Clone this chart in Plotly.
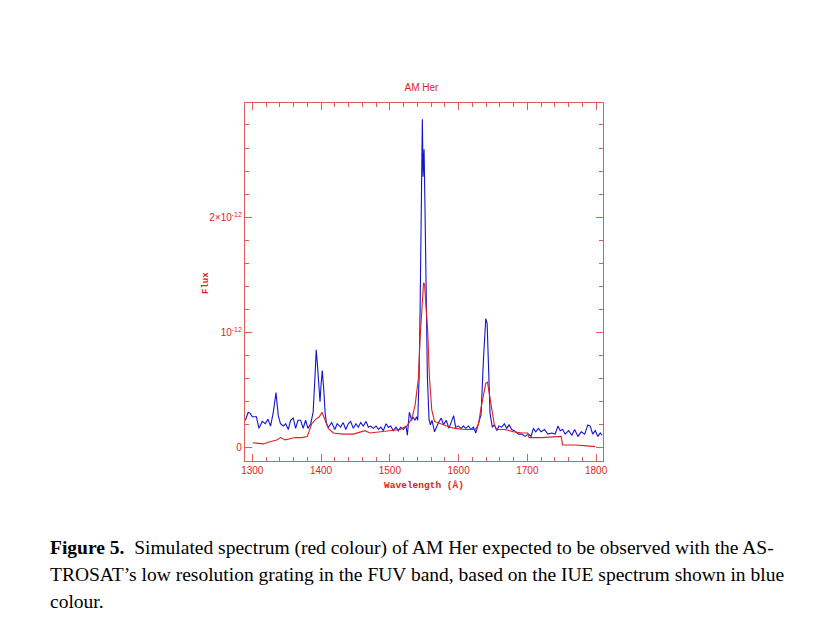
"""AM Her FUV spectrum: IUE (blue) vs simulated ASTROSAT grating (red)."""

import plotly.graph_objects as go

# IUE spectrum (blue), flux in units of 1e-12
iue_wave = [
    1290, 1294, 1297, 1300, 1302.5, 1306, 1309.7, 1314.5, 1319, 1322.8,
    1326.6, 1330.6, 1334.5, 1337.8, 1341, 1345, 1348.5, 1352.4, 1355.7,
    1359.6, 1363, 1366.4, 1370.3, 1374, 1377.5, 1381, 1385, 1388.5, 1391,
    1393, 1395, 1397, 1398.5, 1400, 1401.8, 1404, 1406, 1408, 1410.6,
    1415.4, 1420, 1423.5, 1428.4, 1432.2, 1436, 1439.5, 1443, 1447, 1450.8,
    1454.2, 1457.6, 1461.5, 1465.4, 1468.8, 1472.2, 1476, 1480, 1483.4,
    1486.8, 1490.6, 1494.5, 1498, 1501.3, 1505, 1509, 1512.4, 1515.8,
    1519.7, 1523.5, 1525.5, 1528.4, 1531.8, 1533.3, 1536.7, 1539, 1540.6,
    1542.5, 1544, 1545.4, 1547.3, 1548.3, 1549.8, 1551.2, 1552.7, 1554.6,
    1557, 1559, 1561.4, 1565, 1570, 1574.8, 1578, 1582, 1586, 1589.3,
    1592.8, 1595.7, 1599.8, 1603.6, 1607, 1610.5, 1614.3, 1618, 1621.7,
    1625, 1628.8, 1632.7, 1636, 1639.5, 1641.5, 1643.3, 1645.7, 1649, 1652,
    1655.4, 1658.7, 1662.6, 1666.5, 1670, 1673.3, 1677.2, 1681, 1687,
    1691.8, 1696.7, 1701.5, 1705.4, 1708.8, 1712.2, 1716, 1720, 1725,
    1729.8, 1735.6, 1740.5, 1744.4, 1747.8, 1751.2, 1755, 1760, 1764.8,
    1768.7, 1773.6, 1778.4, 1783.3, 1788, 1791.5, 1795, 1798.8, 1802.6,
    1806, 1808.5,
]
iue_flux = [
    0.24, 0.31, 0.30, 0.27, 0.27, 0.27, 0.17, 0.23, 0.21, 0.25,
    0.19, 0.31, 0.48, 0.28, 0.21, 0.19, 0.21, 0.16, 0.24,
    0.26, 0.17, 0.24, 0.24, 0.17, 0.24, 0.17, 0.21, 0.31, 0.60,
    0.85, 0.70, 0.50, 0.40, 0.55, 0.67, 0.50, 0.30, 0.21, 0.18,
    0.22, 0.16, 0.21, 0.18, 0.22, 0.16, 0.21, 0.23, 0.17, 0.21,
    0.18, 0.22, 0.19, 0.23, 0.18, 0.19, 0.17, 0.19, 0.16,
    0.18, 0.15, 0.21, 0.18, 0.19, 0.15, 0.18, 0.15, 0.18,
    0.16, 0.19, 0.11, 0.31, 0.24, 0.27, 0.24, 0.27, 0.24,
    0.60, 1.19, 2.06, 2.85, 2.35, 2.59, 2.06, 1.34, 0.62,
    0.25, 0.20, 0.24, 0.14, 0.21, 0.26, 0.20, 0.24, 0.17, 0.23,
    0.28, 0.18, 0.19, 0.17, 0.19, 0.17, 0.19, 0.16, 0.18,
    0.13, 0.20, 0.29, 0.75, 1.12, 1.08, 0.68, 0.30, 0.18, 0.20,
    0.15, 0.19, 0.18, 0.21, 0.17, 0.20, 0.16, 0.15, 0.12,
    0.12, 0.10, 0.12, 0.10, 0.17, 0.14, 0.17, 0.14, 0.16,
    0.12, 0.13, 0.12, 0.19, 0.15, 0.16, 0.12, 0.15, 0.11,
    0.16, 0.10, 0.14, 0.12, 0.20, 0.19, 0.12, 0.15, 0.10,
    0.13, 0.11,
]

# Simulated ASTROSAT spectrum (red), flux in units of 1e-12
sim_wave = [
    1300.6, 1308, 1316, 1325.7, 1335.4, 1341.3, 1347.6, 1354.9, 1362,
    1371.8, 1380, 1383, 1386.4, 1392.6, 1397.5, 1401.4, 1405.7, 1410.6,
    1417.8, 1432.3, 1447, 1459, 1464, 1471, 1485.8, 1500, 1515, 1524.5,
    1531.8, 1536.7, 1541.5, 1544, 1546.5, 1549, 1550.5, 1553, 1555.2,
    1557.5, 1561, 1565, 1573, 1587.6, 1595, 1609.5, 1624, 1628.8, 1632.7,
    1636, 1639.5, 1642, 1645, 1648.3, 1652, 1655.4, 1667.5, 1679.6,
    1691.8, 1700.5, 1702.5, 1721, 1740.5, 1749.2, 1751.2, 1769.6, 1786.5,
    1798.8,
]
sim_flux = [
    0.045, 0.04, 0.035, 0.054, 0.069, 0.09, 0.07, 0.08, 0.09,
    0.09, 0.10, 0.15, 0.21, 0.25, 0.27, 0.31, 0.24, 0.17,
    0.13, 0.12, 0.12, 0.14, 0.15, 0.13, 0.14, 0.15, 0.16, 0.19,
    0.25, 0.37, 0.60, 0.95, 1.25, 1.43, 1.42, 1.20, 1.00,
    0.62, 0.33, 0.23, 0.21, 0.18, 0.17, 0.16, 0.16, 0.20, 0.35,
    0.46, 0.56, 0.57, 0.46, 0.32, 0.20, 0.16, 0.16, 0.14,
    0.13, 0.13, 0.09, 0.09, 0.10, 0.10, 0.026, 0.026, 0.018,
    0.012,
]

y_tick_vals = [0, 1, 2]
y_tick_text = ["0", "10<sup>-12</sup>", "2×10<sup>-12</sup>"]

caption_lines = [
    "<b>Figure 5.</b>  Simulated spectrum (red colour) of AM Her expected to be observed with the AS-",
    "TROSAT’s low resolution grating in the FUV band, based on the IUE spectrum shown in blue",
    "colour.",
]

FRAME = "#e05a5a"
TEXT = "#dd1c1c"

# the page body adds an 8px offset, so margins are shifted to compensate
PLOT_L, PLOT_R, PLOT_T, PLOT_B = 245, 603, 103, 461
OFF = 8
PW = PLOT_R - PLOT_L
PH = PLOT_B - PLOT_T

fig = go.Figure()
fig.add_trace(go.Scatter(x=iue_wave, y=iue_flux, mode="lines",
                         line=dict(color="#1414cc", width=1.1)))
fig.add_trace(go.Scatter(x=sim_wave, y=sim_flux, mode="lines",
                         line=dict(color="#dd2020", width=1.1)))

axis_common = dict(
    showgrid=False, zeroline=False, showline=True, linecolor=FRAME,
    linewidth=1.2, mirror="allticks", ticks="inside", tickcolor=FRAME,
    tickwidth=1, ticklen=7,
    tickfont=dict(family="Liberation Sans, Arial", size=10, color=TEXT),
)

fig.update_xaxes(
    range=[1289.4, 1810], tick0=1300, dtick=100,
    minor=dict(dtick=20, ticks="inside", ticklen=4, tickcolor=FRAME),
    title=dict(text="<b>Wavelength (Å)</b>", standoff=6,
               font=dict(family="Liberation Mono, Courier New", size=9.5,
                         color=TEXT)),
    **axis_common,
)
fig.update_yaxes(
    range=[-0.113, 2.99], tickvals=y_tick_vals, ticktext=y_tick_text,
    minor=dict(dtick=0.2, tick0=0, ticks="inside", ticklen=4,
               tickcolor=FRAME),
    **axis_common,
)

fig.update_layout(
    width=827, height=640,
    margin=dict(l=PLOT_L - OFF, r=827 - PLOT_R + OFF, t=PLOT_T - OFF,
                b=640 - PLOT_B + OFF, pad=0),
    paper_bgcolor="white", plot_bgcolor="white",
    showlegend=False,
    title=dict(text="AM Her", x=0.5, xanchor="center",
               y=1 - (87 - OFF) / 640, yanchor="middle",
               font=dict(family="Liberation Sans, Arial", size=10,
                         color=TEXT)),
)

# y-axis title placed by hand, it sits closer than the longest tick label
fig.add_annotation(
    text="<b>Flux</b>", xref="paper", yref="paper",
    x=(206 - PLOT_L) / PW, y=(PLOT_B - 283) / PH, textangle=-90,
    xanchor="center", yanchor="middle", showarrow=False,
    font=dict(family="Liberation Mono, Courier New", size=9, color=TEXT),
)

# Caption below the chart, one annotation per line
for i, line in enumerate(caption_lines):
    fig.add_annotation(
        text=line, xref="paper", yref="paper",
        x=(48 - PLOT_L) / PW, y=(PLOT_B - (548 + 26.5 * i)) / PH,
        xanchor="left", yanchor="middle", showarrow=False, align="left",
        font=dict(family="Liberation Serif, Times New Roman", size=19.5,
                  color="black"),
    )

fig.write_html("out.html")
